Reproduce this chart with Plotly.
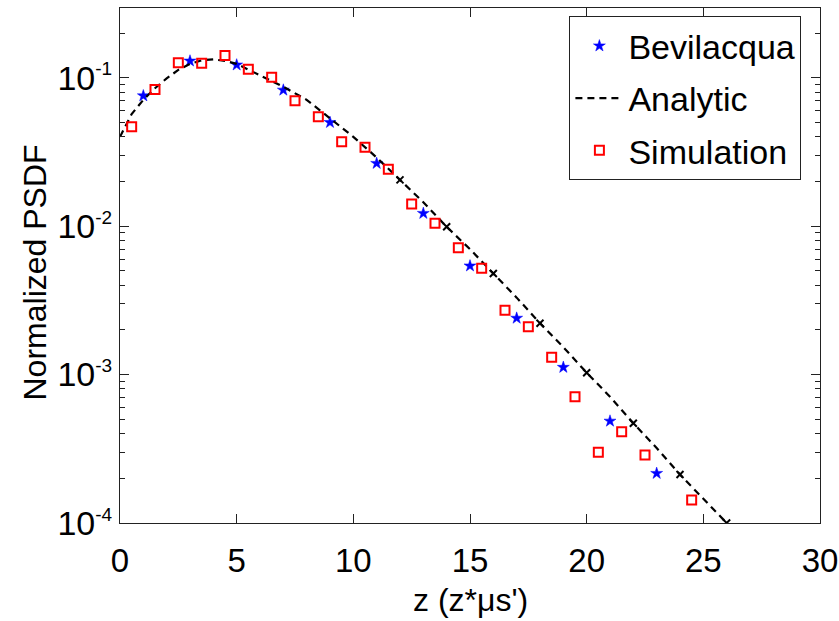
import plotly.graph_objects as go

# Bevilacqua (blue stars)
bev_x = [1, 3, 5, 7, 9, 11, 13, 15, 17, 19, 21, 23]
bev_y = [0.0756, 0.1297, 0.122, 0.0826, 0.050, 0.0265, 0.0122, 0.0054,
         0.0024, 0.00112, 0.000486, 0.000216]

# Analytic (dashed line)
ana_x = [0, 0.5, 1, 1.5, 2, 2.5, 3, 3.5, 4, 4.5, 5, 6, 7, 8, 9, 10, 11, 12,
         13, 14, 15, 16, 17, 18, 19, 20, 21, 22, 23, 24, 25, 26]
ana_y = [0.040, 0.057, 0.071, 0.085, 0.099, 0.113, 0.124, 0.131, 0.133,
         0.130, 0.124, 0.104, 0.087, 0.071, 0.053, 0.040, 0.029, 0.0205,
         0.0145, 0.0099, 0.0070, 0.0048, 0.0033, 0.00222, 0.00153, 0.00103,
         0.00071, 0.00047, 0.00032, 0.000212, 0.000146, 0.0001]

# small cross marks visible on the analytic curve
cross_x = [12, 14, 16, 18, 20, 22, 24, 26]
cross_y = [0.0205, 0.0099, 0.0048, 0.00222, 0.00103, 0.00047, 0.000212, 0.0001]

# Simulation (red squares)
sim_x = [0.5, 1.5, 2.5, 3.5, 4.5, 5.5, 6.5, 7.5, 8.5, 9.5, 10.5, 11.5, 12.5,
         13.5, 14.5, 15.5, 16.5, 17.5, 18.5, 19.5, 20.5, 21.5, 22.5, 24.5]
sim_y = [0.0468, 0.0835, 0.126, 0.125, 0.1415, 0.114, 0.1006, 0.070, 0.0546,
         0.0371, 0.034, 0.0242, 0.0141, 0.01045, 0.00715, 0.0052, 0.00271,
         0.0021, 0.00131, 0.000708, 0.0003, 0.000412, 0.000287, 0.000143]

# Axis ticks
x_ticks = [0, 5, 10, 15, 20, 25, 30]
y_tickvals = [1e-4, 1e-3, 1e-2, 1e-1]
y_exponents = ["-4", "-3", "-2", "-1"]
y_ticktext = ["10<sup><span style='font-size:19px'>%s</span></sup>" % e for e in y_exponents]

FONT = "Liberation Sans, Arial, sans-serif"

fig = go.Figure()
fig.add_trace(go.Scatter(
    x=bev_x, y=bev_y, mode="markers", name="Bevilacqua",
    marker=dict(symbol="star", size=9, color="#0000ff",
                line=dict(width=0.5, color="#0000ff")),
    legendgroup="a"))
fig.add_trace(go.Scatter(
    x=ana_x, y=ana_y, mode="lines", name="Analytic",
    line=dict(color="black", width=2.2, dash="7px,5px"),
    legendgroup="b"))
fig.add_trace(go.Scatter(
    x=cross_x, y=cross_y, mode="markers", showlegend=False, hoverinfo="skip",
    marker=dict(symbol="x-thin", size=7, color="black",
                line=dict(width=2, color="black")),
    legendgroup="b"))
fig.add_trace(go.Scatter(
    x=sim_x, y=sim_y, mode="markers", name="Simulation",
    marker=dict(symbol="square-open", size=9, color="#ff0000",
                line=dict(width=2, color="#ff0000")),
    legendgroup="c"))

fig.update_layout(
    width=839, height=621,
    margin=dict(l=120, r=19, t=8, b=98, autoexpand=False),
    plot_bgcolor="white", paper_bgcolor="white",
    font=dict(family=FONT, size=32, color="black"),
    showlegend=True,
    legend=dict(
        x=0.642, y=0.984, xanchor="left", yanchor="top",
        bgcolor="white", bordercolor="#222", borderwidth=1,
        font=dict(family=FONT, size=34, color="black"),
        traceorder="grouped", tracegroupgap=5, itemwidth=48,
    ),
    annotations=[
        dict(text="z (z*\u03bcs')", xref="paper", yref="paper",
             x=0.5, y=-0.15, xanchor="center", yanchor="middle",
             showarrow=False, font=dict(family=FONT, size=32)),
        dict(text="Normalized PSDF", xref="paper", yref="paper",
             x=-0.121, y=0.487, xanchor="center", yanchor="middle",
             textangle=-90, showarrow=False, font=dict(family=FONT, size=32)),
    ],
)
fig.update_xaxes(
    range=[0, 30], tickvals=x_ticks, automargin=False,
    showline=True, linecolor="#222", linewidth=1, mirror="ticks",
    ticks="inside", ticklen=9, tickcolor="#222",
    showgrid=False, zeroline=False,
    ticklabelstandoff=8, tickfont=dict(size=33),
)
fig.update_yaxes(
    type="log", range=[-4, -0.53], tickvals=y_tickvals, ticktext=y_ticktext,
    automargin=False, tickfont=dict(size=34),
    showline=True, linecolor="#222", linewidth=1, mirror="ticks",
    ticks="inside", ticklen=9, tickcolor="#222",
    minor=dict(ticks="inside", ticklen=5, tickcolor="#222", dtick="D1", showgrid=False),
    showgrid=False, zeroline=False,
)

fig.write_html("out.html", config={"displayModeBar": False},
               post_script="document.body.style.margin='0px';")
